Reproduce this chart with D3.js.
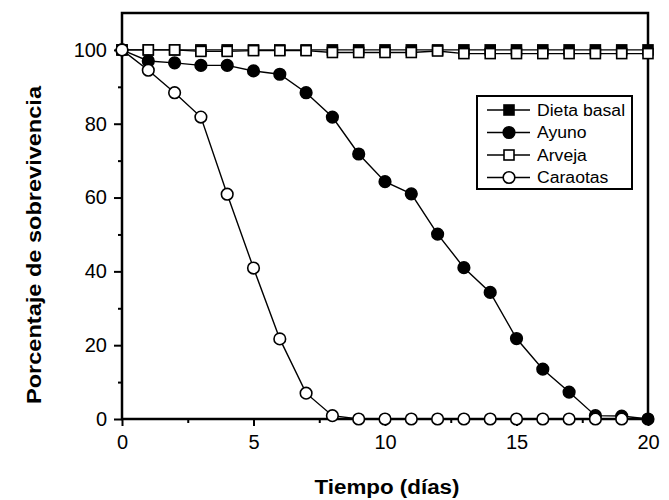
<!DOCTYPE html>
<html>
<head>
<meta charset="utf-8">
<script src="https://cdn.jsdelivr.net/npm/d3@7"></script>
<style>
  html, body { margin: 0; padding: 0; background: #fff; }
  svg { display: block; font-family: "Liberation Sans", Arial, sans-serif; }
</style>
</head>
<body>
<svg id="chart" width="669" height="500"></svg>
<script>
// ---- data ----
const days = d3.range(0, 21);
const dietaBasal = [100,100,100,100,100,100,100,100,100,100,100,100,100,100,100,100,100,100,100,100,100];
const arveja     = [100,100,100,99.6,99.6,99.8,99.8,99.8,99.3,99.3,99.3,99.3,99.7,99,99,99,99,99,99,99,99];
const ayuno      = [100,97,96.5,95.8,95.8,94.3,93.4,88.4,81.8,71.8,64.3,61,50.1,41,34.3,21.8,13.5,7.3,0.9,0.8,0];
const caraotas   = [100,94.5,88.4,81.8,60.9,40.9,21.7,7,0.9,0,0,0,0,0,0,0,0,0,0,0];
const seriesNames = ["Dieta basal","Ayuno","Arveja","Caraotas"];
const xTicks = [0,5,10,15,20];
const xMinor = [2.5,7.5,12.5,17.5];
const yTicks = [0,20,40,60,80,100];
const yMinor = [10,30,50,70,90];
const xTitle = "Tiempo (días)";
const yTitle = "Porcentaje de sobrevivencia";

// ---- layout ----
const svg = d3.select("#chart");
const x = d3.scaleLinear().domain([0,20]).range([122,648]);
const y = d3.scaleLinear().domain([0,110]).range([419,13]);

const series = [
  {name:"Dieta basal", vals:dietaBasal, shape:"square", fill:"#000"},
  {name:"Arveja", vals:arveja, shape:"square", fill:"#fff"},
  {name:"Ayuno", vals:ayuno, shape:"circle", fill:"#000"},
  {name:"Caraotas", vals:caraotas, shape:"circle", fill:"#fff"}
];

const line = d3.line().x((d,i)=>x(days[i])).y(d=>y(d));

function marker(g, shape, fill, cx, cy) {
  if (shape === "square") {
    g.append("rect").attr("x", cx-5).attr("y", cy-5).attr("width", 10).attr("height", 10)
      .attr("fill", fill).attr("stroke", "#000").attr("stroke-width", 1.6);
  } else {
    g.append("circle").attr("cx", cx).attr("cy", cy).attr("r", 5.8)
      .attr("fill", fill).attr("stroke", "#000").attr("stroke-width", 1.6);
  }
}

// ---- axes ----
const xAxis = svg.append("g").attr("transform", `translate(0,${y(0)})`)
  .call(d3.axisBottom(x).tickValues(xTicks).tickSize(7).tickPadding(9).tickFormat(d3.format("d")));
const xAxisMinor = svg.append("g").attr("transform", `translate(0,${y(0)})`)
  .call(d3.axisBottom(x).tickValues(xMinor).tickSize(4).tickFormat(""));
const yAxis = svg.append("g").attr("transform", `translate(${x(0)},0)`)
  .call(d3.axisLeft(y).tickValues(yTicks).tickSize(8).tickPadding(7).tickFormat(d3.format("d")));
const yAxisMinor = svg.append("g").attr("transform", `translate(${x(0)},0)`)
  .call(d3.axisLeft(y).tickValues(yMinor).tickSize(4).tickFormat(""));

[xAxis, xAxisMinor, yAxis, yAxisMinor].forEach(a => {
  a.select(".domain").remove();
  a.selectAll(".tick line").attr("stroke", "#000").attr("stroke-width", 2);
  a.selectAll("text").attr("font-size", 20).attr("fill", "#000")
    .attr("font-family", "'Liberation Sans', Arial, sans-serif");
});

// frame
svg.append("rect")
  .attr("x", x(0)).attr("y", y(110))
  .attr("width", x(20)-x(0)).attr("height", y(0)-y(110))
  .attr("fill", "none").attr("stroke", "#000").attr("stroke-width", 2.5);

// ---- series ----
series.forEach(s => {
  const g = svg.append("g");
  g.append("path").datum(s.vals).attr("d", line)
    .attr("fill", "none").attr("stroke", "#000").attr("stroke-width", 1.4);
  s.vals.forEach((v,i) => marker(g, s.shape, s.fill, x(days[i]), y(v)));
});

// ---- legend ----
const legendOrder = [
  {name: seriesNames[0], shape:"square", fill:"#000"},
  {name: seriesNames[1], shape:"circle", fill:"#000"},
  {name: seriesNames[2], shape:"square", fill:"#fff"},
  {name: seriesNames[3], shape:"circle", fill:"#fff"}
];
const lg = svg.append("g");
lg.append("rect").attr("x", 477).attr("y", 96).attr("width", 155).attr("height", 93)
  .attr("fill", "#fff").attr("stroke", "#000").attr("stroke-width", 2);
legendOrder.forEach((s,i) => {
  const cy = 110 + i*22.5;
  lg.append("line").attr("x1", 487).attr("x2", 530).attr("y1", cy).attr("y2", cy)
    .attr("stroke", "#000").attr("stroke-width", 1.6);
  marker(lg, s.shape, s.fill, 509, cy);
  const t = lg.append("text").attr("x", 537).attr("y", cy + 5.8)
    .attr("font-size", 16).attr("fill", "#000").text(s.name);
  const natural = t.node().getComputedTextLength();
  t.attr("textLength", natural*1.1).attr("lengthAdjust", "spacingAndGlyphs");
});

// ---- titles ----
svg.append("text").attr("x", 387).attr("y", 494).attr("text-anchor", "middle")
  .attr("font-size", 20).attr("font-weight", "bold").attr("fill", "#000")
  .attr("textLength", 145).attr("lengthAdjust", "spacingAndGlyphs")
  .text(xTitle);
svg.append("text").attr("transform", "translate(41,245) rotate(-90)")
  .attr("text-anchor", "middle")
  .attr("font-size", 20).attr("font-weight", "bold").attr("fill", "#000")
  .attr("textLength", 318).attr("lengthAdjust", "spacingAndGlyphs")
  .text(yTitle);
</script>
</body>
</html>
